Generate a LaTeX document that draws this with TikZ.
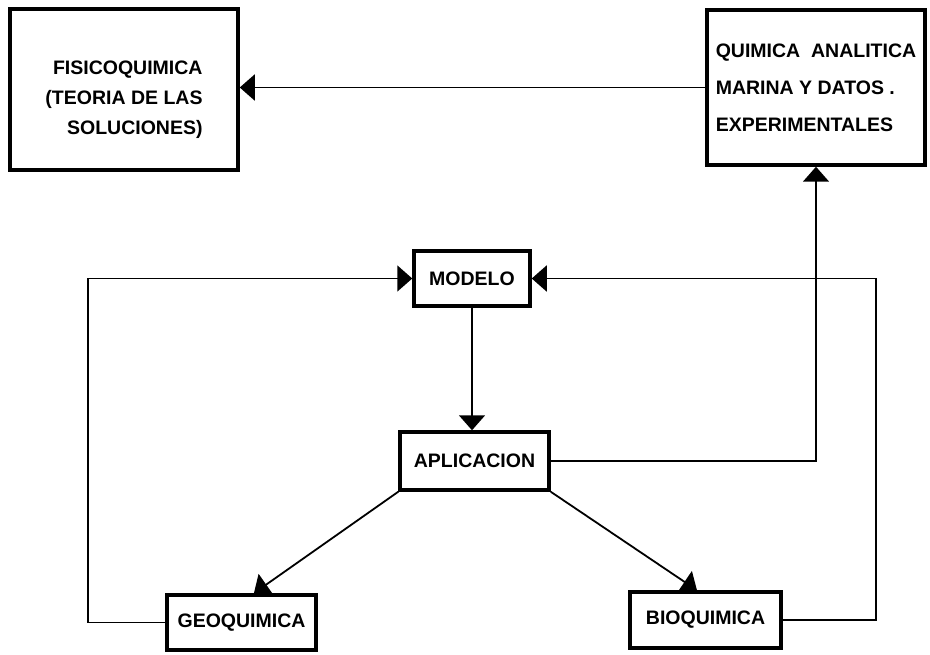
\documentclass[tikz,border=0pt]{standalone}
\usepackage{fontspec}
\setmainfont{Liberation Sans}
\usetikzlibrary{arrows.meta}
\begin{document}
\begin{tikzpicture}[x=1pt,y=-1pt,
  box/.style={draw, line width=3.5pt, inner sep=0pt, font=\fontsize{19.5}{30}\selectfont\bfseries},
  conn/.style={line width=1.8pt},
  arr/.style={conn, -{Triangle[length=15pt,width=26pt]}}]
\useasboundingbox (0,0) rectangle (930,655);
\node[box, minimum width=228pt, minimum height=161pt, align=right] (fis) at (124,89.5)
  {\mbox{}\\[4pt]FISICOQUIMICA\\(TEORIA DE LAS\\SOLUCIONES)};
\node[box, minimum width=218pt, minimum height=155pt, align=left,
  font=\fontsize{19.5}{37}\selectfont\bfseries] (quim) at (816,87.5)
  {QUIMICA\ \ ANALITICA\\MARINA Y DATOS .\\EXPERIMENTALES};
\node[box, minimum width=116pt, minimum height=55pt] (modelo) at (472,278.5) {MODELO};
\node[box, minimum width=149pt, minimum height=58pt] (aplic) at (474.5,461) {APLICACION};
\node[box, minimum width=149pt, minimum height=55pt] (geo) at (241.5,622.5) {GEOQUIMICA};
\node[box, minimum width=151pt, minimum height=56pt] (bio) at (705.5,620) {BIOQUIMICA};
\coordinate (loopL) at (88,300);
\coordinate (loopR) at (876,300);
\draw[arr] (quim.west) -- (quim.west -| fis.east);
\draw[arr] (modelo.south) -- (modelo.south |- aplic.north);
\draw[arr] (aplic.east) -| (quim.south);
\draw[arr] (aplic.south west) -- (geo.67);
\draw[arr] (aplic.south east) -- (bio.106);
\draw[arr] (geo.west) -| (loopL) |- (modelo.west);
\draw[arr] (bio.east) -| (loopR) |- (modelo.east);
\end{tikzpicture}
\end{document}
